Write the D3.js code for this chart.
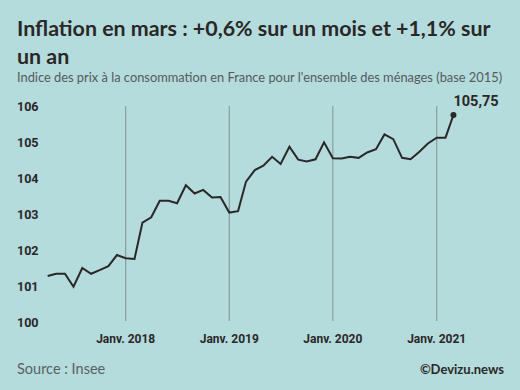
<!DOCTYPE html>
<html><head><meta charset="utf-8">
<script src="https://cdn.jsdelivr.net/npm/d3@7"></script>
<style>
html,body{margin:0;padding:0;background:#b4dcdd;}
svg{display:block;}
</style></head>
<body>
<svg id="c" width="520" height="390"></svg>
<script>
const months = ["2017-04","2017-05","2017-06","2017-07","2017-08","2017-09","2017-10","2017-11","2017-12",
"2018-01","2018-02","2018-03","2018-04","2018-05","2018-06","2018-07","2018-08","2018-09","2018-10","2018-11","2018-12",
"2019-01","2019-02","2019-03","2019-04","2019-05","2019-06","2019-07","2019-08","2019-09","2019-10","2019-11","2019-12",
"2020-01","2020-02","2020-03","2020-04","2020-05","2020-06","2020-07","2020-08","2020-09","2020-10","2020-11","2020-12",
"2021-01","2021-02","2021-03"];
const values = [101.28,101.34,101.34,100.98,101.50,101.34,101.44,101.55,101.86,
101.77,101.75,102.76,102.91,103.37,103.37,103.30,103.80,103.57,103.67,103.46,103.47,
103.04,103.08,103.90,104.22,104.34,104.59,104.39,104.87,104.51,104.46,104.52,104.99,
104.55,104.54,104.59,104.56,104.71,104.80,105.21,105.08,104.56,104.52,104.73,104.96,
105.12,105.12,105.75];
const yTicks = [100,101,102,103,104,105,106];
const xTicks = ["2018-01","2019-01","2020-01","2021-01"];
const xTickLabels = ["Janv. 2018","Janv. 2019","Janv. 2020","Janv. 2021"];
const lastLabel = "105,75";

const parse = d3.timeParse("%Y-%m");
const data = months.map((m,i)=>({date:parse(m), value:values[i]}));

const svg = d3.select("#c");
const ink = "#2b2727";

svg.append("rect").attr("width",520).attr("height",390).attr("fill","#b4dcdd");

// Title
const title = svg.append("text")
  .attr("font-family","Lato").attr("font-weight",700).attr("font-size",21.4)
  .attr("fill",ink);
title.append("tspan").attr("x",17).attr("y",35.5).text("Inflation en mars : +0,6% sur un mois et +1,1% sur");
title.append("tspan").attr("x",17).attr("y",63.5).text("un an");

svg.append("text").attr("x",17).attr("y",82)
  .attr("font-family","Lato").attr("font-size",12.85).attr("fill","#555a5a")
  .text("Indice des prix à la consommation en France pour l'ensemble des ménages (base 2015)");

const x = d3.scaleTime().domain([parse("2018-01"), parse("2021-01")]).range([125.7, 436.7]);
const y = d3.scaleLinear().domain([100,106]).range([322,106]);

// vertical grid lines
svg.append("g").selectAll("line").data(xTicks).join("line")
  .attr("x1",d=>x(parse(d))).attr("x2",d=>x(parse(d)))
  .attr("y1",y(106)).attr("y2",y(100)-1)
  .attr("stroke","#879797").attr("stroke-width",1.1);

// y labels
svg.append("g").selectAll("text").data(yTicks).join("text")
  .attr("x",17).attr("y",d=>y(d)+4.5)
  .attr("font-family","Roboto").attr("font-weight",700).attr("font-size",12.5)
  .attr("fill",ink).text(d=>d);

// x labels
svg.append("g").selectAll("text").data(xTicks).join("text")
  .attr("x",d=>x(parse(d))).attr("y",343)
  .attr("text-anchor","middle")
  .attr("font-family","Roboto").attr("font-weight",700).attr("font-size",12)
  .attr("fill",ink).text((d,i)=>xTickLabels[i]);

// line
const line = d3.line().x(d=>x(d.date)).y(d=>y(d.value));
svg.append("path").datum(data).attr("d",line)
  .attr("fill","none").attr("stroke",ink).attr("stroke-width",2).attr("stroke-linejoin","miter");

const last = data[data.length-1];
svg.append("circle").attr("cx",x(last.date)).attr("cy",y(last.value)).attr("r",3).attr("fill",ink);
svg.append("text").attr("x",x(last.date)).attr("y",y(last.value)-9)
  .attr("font-family","Roboto").attr("font-weight",700).attr("font-size",14.5)
  .attr("fill",ink).text(lastLabel);

svg.append("text").attr("x",17).attr("y",374)
  .attr("font-family","Lato").attr("font-size",14.5).attr("fill","#5a6060").text("Source : Insee");
svg.append("text").attr("x",504).attr("y",374).attr("text-anchor","end")
  .attr("font-family","Lato").attr("font-weight",700).attr("font-size",13).attr("fill",ink).text("©Devizu.news");
</script>
</body></html>
